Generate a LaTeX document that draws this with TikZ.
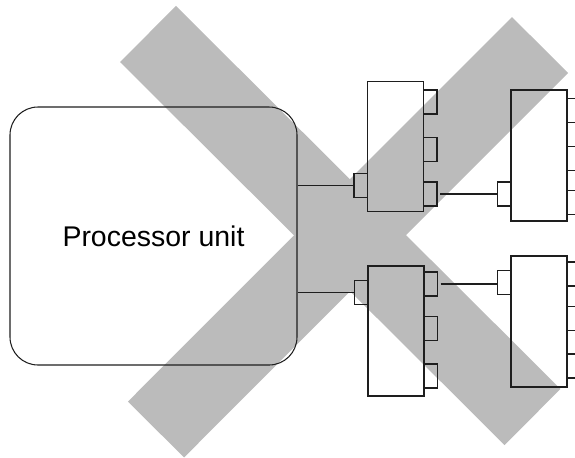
\documentclass[tikz,border=0pt]{standalone}
\usepackage{fontspec}
\setmainfont{Liberation Sans}
\definecolor{ink} {HTML}{1E1E1E}
\definecolor{veil}{HTML}{BBBBBB}

\begin{document}
\begin{tikzpicture}[
    box/.style={draw=ink, line width=0.7pt, minimum width=1.12cm, minimum height=2.6cm,
                inner sep=0pt, outer sep=0pt},
    port/.style={draw=ink, line width=0.7pt, minimum width=0.27cm, minimum height=0.48cm,
                 inner sep=0pt, outer sep=0pt},
    wire/.style={draw=ink, line width=1.1pt},
    veilband/.style={draw=veil, line width=1.584cm}]
    \useasboundingbox (0, 0) rectangle (11.5, 9.14);
    % the big cross lies under the whole drawing
    \draw[veilband] (2.96, 8.46) -- (10.65, 0.80);
    \draw[veilband] (3.12, 0.55) -- (10.80, 8.24);
    \node[draw=ink, line width=0.6pt, rounded corners=0.56cm, minimum width=5.74cm,
          minimum height=5.16cm, inner sep=0pt, font=\fontsize{16.2}{19}\selectfont]
          (proc) at (3.07, 4.42) {Processor unit};
    \node[box] (hubA) at (7.91, 6.21) {};
    \node[box] (hubB) at (7.92, 2.52) {};
    \node[box, minimum height=2.62cm] (devA) at (10.78, 6.03) {};
    \node[box, minimum height=2.62cm] (devB) at (10.78, 2.71) {};
    \foreach \b/\off in {hubA/2.08, devA/2.08, hubB/0.53, devB/0.53}
      \node[port, anchor=east] (\b-in) at ([yshift=-\off*1cm]\b.north west) {};
    \foreach \b/\offs in {hubA/{0.41,1.36,2.25}, devA/{0.41,1.37,2.25},
                          hubB/{0.36,1.25,2.20}, devB/{0.36,1.25,2.20}}
      \foreach \off [count=\k] in \offs
        \node[port, anchor=west] (\b-out\k) at ([yshift=-\off*1cm]\b.north east) {};
    \draw[wire] (proc.east |- hubA-in) -- (hubA-in.west);
    \draw[wire] (proc.east |- hubB-in) -- (hubB-in.west);
    \draw[wire, shorten <=0.06cm] (hubA-out3.east) -- (hubA-out3.east -| devA-in.west);
    \draw[wire, shorten <=0.06cm] (hubB-out1.east) -- (hubB-out1.east -| devB-in.west);
  \end{tikzpicture}
\end{document}
